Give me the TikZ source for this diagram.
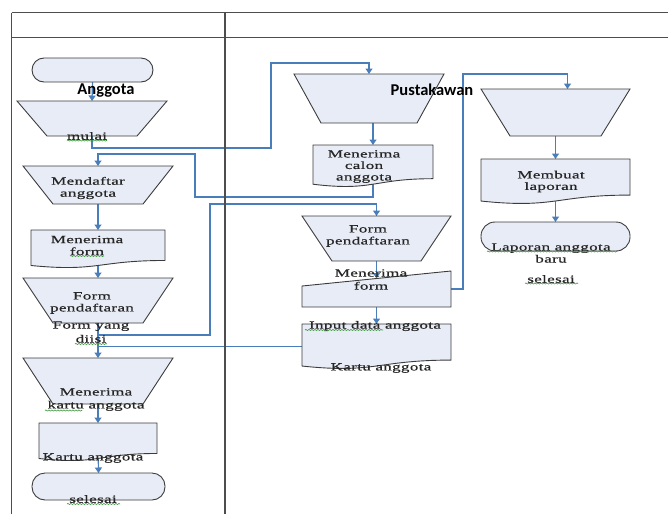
\documentclass[tikz,border=0pt]{standalone}
\usepackage{fontspec}
\setmainfont{Liberation Serif}[FakeStretch=1.55,LetterSpace=3,FakeBold=0.6]
\newfontfamily\headfont{Carlito}
\usetikzlibrary{calc,arrows.meta,decorations.pathmorphing}
\pgfdeclarelayer{back}
\pgfsetlayers{back,main}

\definecolor{shapefill}{HTML}{E8ECF6}
\definecolor{shapeedge}{HTML}{3C3C3C}
\definecolor{flowblue}{HTML}{4A7EBB}
\definecolor{gridgray}{HTML}{4D4D4D}
\definecolor{spellgreen}{HTML}{3C9A3C}

\tikzset{
  frame/.style={draw=none,inner sep=0,outer sep=0},
  shapeline/.style={draw=shapeedge,fill=shapefill,line width=0.9pt,line join=miter},
  termbox/.style={frame,draw=shapeedge,fill=shapefill,line width=0.9pt},
  flow/.style={draw=flowblue,line width=1.2pt},
  flowarrow/.style={flow,-{Triangle[length=5.5pt,width=7pt]}},
  gridline/.style={draw=gridgray,line width=1.3pt},
  label/.style={inner sep=0,align=center,text=black!85,font=\fontsize{11}{12}\selectfont},
  lanetitle/.style={inner sep=0,text=black,font=\headfont\bfseries\fontsize{16.5}{18}\selectfont},
  squiggle/.style={draw=spellgreen,line width=0.6pt,decorate,
    decoration={snake,segment length=3pt,amplitude=0.6pt}}
}

% manual operation: wide top, narrow bottom
\newcommand\manop[2]{\draw[shapeline] (#1.north west) -- (#1.north east)
  -- ([xshift=-#2pt]#1.south east) -- ([xshift=#2pt]#1.south west) -- cycle;}
% document: wavy bottom edge
\newcommand\docshape[1]{\draw[shapeline] (#1.north west) -- (#1.north east)
  -- ($(#1.north east)!0.802!(#1.south east)$)
  .. controls ($(#1.north)!0.802!(#1.south)$) and ($(#1.north)!1.108!(#1.south)$)
  .. ($(#1.north west)!0.934!(#1.south west)$) -- cycle;}
% manual input: sloped top edge
\newcommand\maninput[2]{\draw[shapeline] (#1.south west)
  -- ($(#1.north west)!#2!(#1.south west)$) -- (#1.north east)
  -- (#1.south east) -- cycle;}

\begin{document}
\begin{tikzpicture}[x=1pt,y=-1pt]
\useasboundingbox (0,0) rectangle (668,514);

% swimlane table
\draw[gridline] (11.7,12.7) -- (668,12.7);
\draw[gridline] (11.7,37.7) -- (668,37.7);
\draw[gridline] (11.7,12.7) -- (11.7,514);
\draw[gridline] (225,12.7) -- (225,514);

% ---- shape frames ----
% Anggota lane
\node[termbox,rounded corners=12pt,minimum width=121,minimum height=24] (t1) at (92.5,70) {};
\node[frame,minimum width=150,minimum height=35] (m1) at (92,118.5) {};
\node[frame,minimum width=150,minimum height=38] (m2) at (98,185) {};
\node[frame,minimum width=134,minimum height=38] (d1) at (98,249) {};
\node[frame,minimum width=150,minimum height=45] (m3) at (98,300.5) {};
\node[frame,minimum width=150,minimum height=46] (m4) at (98,381) {};
\node[frame,minimum width=118,minimum height=38] (d2) at (98,442) {};
\node[termbox,rounded corners=13pt,minimum width=133,minimum height=27] (t2) at (98.5,486.5) {};
% Pustakawan lane
\node[frame,minimum width=150,minimum height=49] (m5) at (369,98.5) {};
\node[frame,minimum width=120,minimum height=42] (d3) at (373,166) {};
\node[frame,minimum width=149,minimum height=45] (m6) at (376.5,238.5) {};
\node[frame,minimum width=149,minimum height=36] (i1) at (376.5,289) {};
\node[frame,minimum width=149,minimum height=45] (d4) at (376.5,346.5) {};
\node[frame,minimum width=149,minimum height=47] (m7) at (555.5,112.5) {};
\node[frame,minimum width=149,minimum height=45] (d5) at (555.5,181.5) {};
\node[termbox,rounded corners=14pt,minimum width=149,minimum height=29] (t3) at (555.5,236.5) {};

\manop{m1}{30}
\manop{m2}{30}
\docshape{d1}
\manop{m3}{30}
\manop{m4}{30}
\docshape{d2}
\manop{m5}{27}
\docshape{d3}
\manop{m6}{30}
\maninput{i1}{0.417}
\docshape{d4}
\manop{m7}{29}
\docshape{d5}

\coordinate (i1top) at ($($(i1.north west)!0.417!(i1.south west)$)!0.5!(i1.north east)$);

% ---- connectors ----
\begin{pgfonlayer}{back}
\draw[flowarrow] (t1.south) -- (m1.north);
\draw[flowarrow] (m1.south) |- (271,148) -- (271,63) -| (m5.north);
\draw[flowarrow] (m5.south -| d3.north) -- (d3.north);
\draw[flowarrow] (d3.center) |- (195,197) -- (195,154) -| (m2.north);
\draw[flowarrow] (m2.south) -- (d1.north);
\draw[flowarrow] (d1.center) -- (m3.north);
\draw[flow] (m3.south) |- (210,335) -- (210,204) -| (m6.north);
\draw[flowarrow] (m6.north |- 204,204) -- (m6.north);
\draw[flowarrow] (m3.south) -- (m4.north);
\draw[flow] (d4.west) -- (d4.west -| m4.north);
\draw[flowarrow] (m4.south) -- (d2.north);
\draw[flowarrow] (d2.center) -- (t2.north);
\draw[flowarrow] (m6.south) -- (i1top);
\draw[flowarrow] (i1.south) -- (d4.north);
\draw[flowarrow] (i1.east) -| (463,74) -| ([xshift=12pt]m7.north);
\draw[flowarrow] (m7.south) -- (d5.north);
\draw[flowarrow] (d5.center) -- (t3.north);
\end{pgfonlayer}

% ---- texts ----
\node[lanetitle] (tang) at (106,91) {Anggota};
\node[lanetitle] (tpus) at (432,90) {Pustakawan};

\node[label] (tmul) at (87,136) {mulai};
\node[label] (tmd) at (88,188) {Mendaftar\\anggota};
\node[label] (tmf1) at (87,245.5) {Menerima\\form};
\node[label] (tfp1) at (92,303) {Form\\pendaftaran};
\node[label,font=\fontsize{11}{14}\selectfont] (tfy) at (91,332) {Form yang\\diisi};
\node[label,font=\fontsize{11}{13}\selectfont] (tmk) at (96,399.5) {Menerima\\kartu anggota};
\node[label] (tka1) at (93,458) {Kartu anggota};
\node[label] (tsel1) at (93,499) {selesai};

\node[label,font=\fontsize{11}{11.5}\selectfont] (tmca) at (364,166.5) {Menerima\\calon\\anggota};
\node[label] (tfp2) at (368,236) {Form\\pendaftaran};
\node[label,font=\fontsize{11}{13}\selectfont] (tmf2) at (371,279.5) {Menerima\\form};
\node[label] (tin) at (375,326) {Input data anggota};
\node[label] (tka2) at (381,368) {Kartu anggota};

\node[label,font=\fontsize{11}{11.5}\selectfont] (tmb) at (551,181.5) {Membuat\\laporan};
\node[label] (tlap) at (551,253) {Laporan anggota\\baru};
\node[label] (tsel2) at (551,279) {selesai};

% spelling marks under words
\draw[squiggle] (67,140.5) -- (107,140.5);
\draw[squiggle] (70,256) -- (104,256);
\draw[squiggle] (75,344) -- (107,344);
\draw[squiggle] (45,410.5) -- (82,410.5);
\draw[squiggle] (67,504) -- (120,504);
\draw[squiggle] (305,330) -- (383,330);
\draw[squiggle] (487,251.5) -- (617,251.5);
\draw[squiggle] (525,283.5) -- (578,283.5);
\end{tikzpicture}
\end{document}
